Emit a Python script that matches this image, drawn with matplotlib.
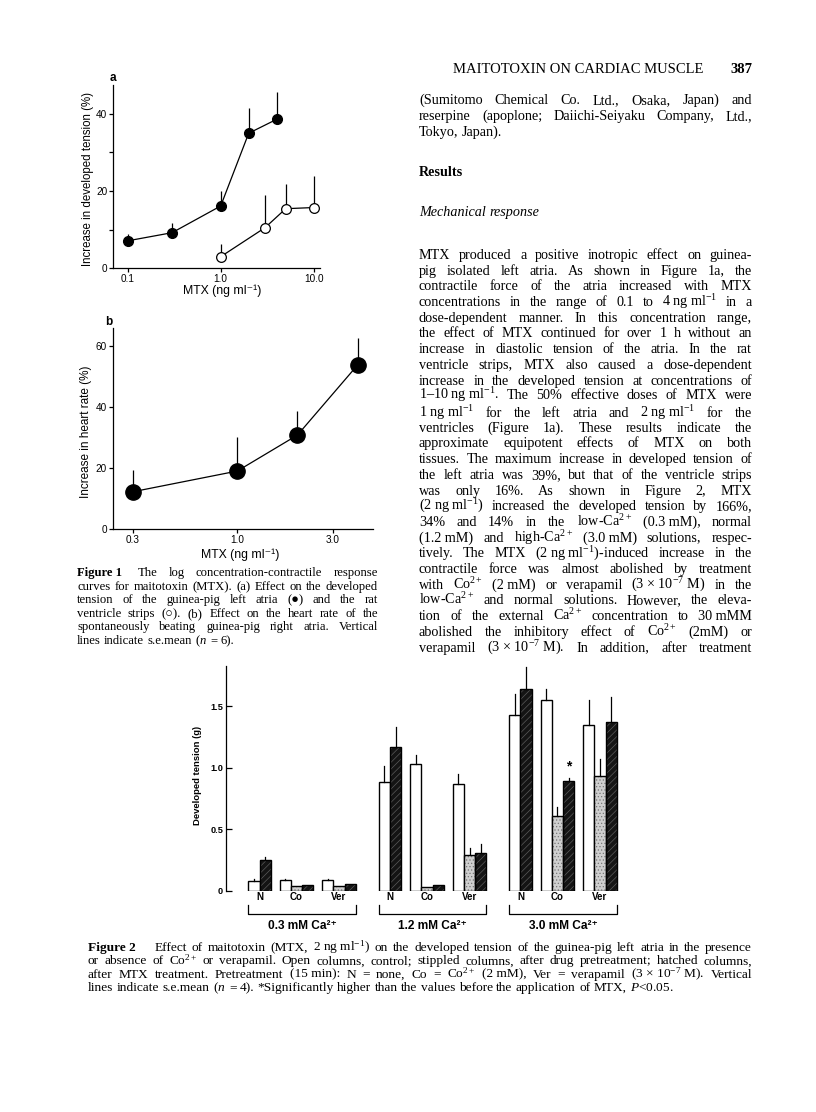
import matplotlib
matplotlib.use('Agg')
import matplotlib.pyplot as plt
from matplotlib.ticker import NullLocator
import numpy as np

W, H, DPI = 816, 1112, 100
plt.rcParams['font.family'] = ['Liberation Sans', 'DejaVu Sans']
plt.rcParams['mathtext.fontset'] = 'custom'
plt.rcParams['mathtext.rm'] = 'Liberation Serif'
plt.rcParams['mathtext.it'] = 'Liberation Serif:italic'
plt.rcParams['mathtext.bf'] = 'Liberation Serif:bold'
plt.rcParams['hatch.linewidth'] = 0.5

SERIF = ['Liberation Serif', 'DejaVu Serif']
SANS = ['Liberation Sans', 'DejaVu Sans']

# ---------------- data ----------------
# Figure 1a : developed tension (%)
atria_conc = [0.1, 0.3, 1.0, 2.0, 4.0]
atria_tension = [7.1, 9.2, 16.1, 34.9, 38.5]
atria_sem = [1.8, 2.4, 3.9, 6.5, 7.0]
vent_conc = [1.0, 3.0, 5.0, 10.0]
vent_tension = [3.0, 10.5, 15.4, 15.7]
vent_sem = [3.2, 8.5, 6.3, 8.2]
fig1a_xticks = [0.1, 1.0, 10.0]
fig1a_xticklabels = ['0.1', '1.0', '10.0']
fig1a_yticks = [0, 20, 40]
fig1a_yminor = [10, 30]

# Figure 1b : heart rate (%)
hr_conc = [0.3, 1.0, 2.0, 4.0]
hr_increase = [12.3, 19.1, 30.9, 53.9]
hr_sem = [7.2, 11.0, 8.0, 8.7]
fig1b_xticks = [0.3, 1.0, 3.0]
fig1b_xticklabels = ['0.3', '1.0', '3.0']
fig1b_yticks = [0, 20, 40, 60]

# Figure 2 : developed tension (g)
ca_groups = ['0.3 mM Ca²⁺', '1.2 mM Ca²⁺', '3.0 mM Ca²⁺']
pretreatments = ['N', 'Co', 'Ver']
control = [[0.085, 0.088, 0.09], [0.88, 1.03, 0.87], [1.43, 1.55, 1.35]]
control_sem = [[0.015, 0.01, 0.01], [0.13, 0.07, 0.075], [0.17, 0.085, 0.2]]
after_drug = [[np.nan, 0.04, 0.04], [np.nan, 0.03, 0.29], [np.nan, 0.61, 0.93]]
after_drug_sem = [[np.nan, 0.0, 0.0], [np.nan, 0.0, 0.06], [np.nan, 0.075, 0.14]]
after_mtx = [[0.25, 0.045, 0.055], [1.17, 0.045, 0.31], [1.64, 0.89, 1.37]]
after_mtx_sem = [[0.025, 0.005, 0.005], [0.16, 0.0, 0.07], [0.18, 0.03, 0.2]]
fig2_yticks = [0, 0.5, 1.0, 1.5]
fig2_yticklabels = ['0', '0.5', '1.0', '1.5']
significant = [(2, 1)]  # (Ca group, pretreatment) marked with *

# ---------------- figure ----------------
fig = plt.figure(figsize=(W / DPI, H / DPI), dpi=DPI)
fig.patch.set_facecolor('white')
renderer = fig.canvas.get_renderer()


def ax_px(left, top, right, bottom):
    a = fig.add_axes([left / W, 1 - bottom / H, (right - left) / W, (bottom - top) / H])
    a.patch.set_alpha(0)
    return a


def ftext(x, y, s, **kw):
    return fig.text(x / W, 1 - y / H, s, **kw)


def style_axes(ax, direction='out'):
    for s in ['top', 'right']:
        ax.spines[s].set_visible(False)
    for s in ['left', 'bottom']:
        ax.spines[s].set_linewidth(0.9)
    ax.tick_params(which='both', direction=direction, length=3, width=0.9,
                   labelsize=7.2, pad=1.2)


# ---- Figure 1a ----
a_left, a_top, a_right, a_bottom = 113.3, 85, 320, 268.3
a_x01, a_dec = 127.7, 93.0          # pixel of 0.1, pixels per decade
a_ppu = 3.87                        # pixels per % unit
ax1 = ax_px(a_left, a_top, a_right, a_bottom)
ax1.set_xscale('log')
ax1.set_xlim(0.1 * 10 ** ((a_left - a_x01) / a_dec), 0.1 * 10 ** ((a_right - a_x01) / a_dec))
ax1.set_ylim(0, (a_bottom - a_top) / a_ppu)
style_axes(ax1)
ax1.set_xticks(fig1a_xticks, labels=fig1a_xticklabels)
ax1.xaxis.set_minor_locator(NullLocator())
ax1.set_yticks(fig1a_yticks)
ax1.set_yticks(fig1a_yminor, minor=True)
ax1.errorbar(atria_conc, atria_tension, yerr=[np.zeros(len(atria_sem)), atria_sem],
             fmt='none', ecolor='black', elinewidth=0.9, capsize=0, zorder=2)
ax1.errorbar(vent_conc, vent_tension, yerr=[np.zeros(len(vent_sem)), vent_sem],
             fmt='none', ecolor='black', elinewidth=0.9, capsize=0, zorder=2)
ax1.plot(atria_conc, atria_tension, '-o', color='black', lw=0.9, ms=7,
         mfc='black', mec='black', zorder=3, clip_on=False)
ax1.plot(vent_conc, vent_tension, '-o', color='black', lw=0.9, ms=7,
         mfc='white', mec='black', mew=0.9, zorder=3, clip_on=False)
ftext(113, 78, 'a', fontsize=8.5, weight='bold', ha='center', va='center')
ftext(88, 179, 'Increase in developed tension (%)', rotation=90, fontsize=8.3,
      ha='center', va='center')
ftext(222, 291, 'MTX (ng ml⁻¹)', fontsize=8.8, ha='center', va='center')

# ---- Figure 1b ----
b_left, b_top, b_right, b_bottom = 112.7, 328, 373, 529.3
b_x03, b_dec = 132.7, 200.0
b_ppu = 3.05
ax2 = ax_px(b_left, b_top, b_right, b_bottom)
ax2.set_xscale('log')
ax2.set_xlim(0.3 * 10 ** ((b_left - b_x03) / b_dec), 0.3 * 10 ** ((b_right - b_x03) / b_dec))
ax2.set_ylim(0, (b_bottom - b_top) / b_ppu)
style_axes(ax2)
ax2.set_xticks(fig1b_xticks, labels=fig1b_xticklabels)
ax2.xaxis.set_minor_locator(NullLocator())
ax2.set_yticks(fig1b_yticks)
ax2.errorbar(hr_conc, hr_increase, yerr=[np.zeros(len(hr_sem)), hr_sem],
             fmt='none', ecolor='black', elinewidth=0.9, capsize=0, zorder=2)
ax2.plot(hr_conc, hr_increase, '-o', color='black', lw=0.9, ms=11,
         mfc='black', mec='black', zorder=3, clip_on=False)
ftext(109, 322, 'b', fontsize=8.5, weight='bold', ha='center', va='center')
ftext(86.5, 432, 'Increase in heart rate (%)', rotation=90, fontsize=8.5,
      ha='center', va='center')
ftext(240, 555, 'MTX (ng ml⁻¹)', fontsize=8.8, ha='center', va='center')

# ---- Figure 2 ----
c_left, c_top, c_right, c_zero = 226, 666, 640, 891
c_x0, c_unit = 248.3, 11.2      # pixel of first bar edge, pixels per bar width
c_ppu = 123.3                   # pixels per gram
group_gap = 11.65               # bar widths between Ca groups
pre_off = [0.0, 2.8, 6.6]       # bar-width offsets of N, Co, Ver inside group
ax3 = ax_px(c_left, c_top, c_right, c_zero)
ax3.set_xlim((c_left - c_x0) / c_unit, (c_right - c_x0) / c_unit)
ax3.set_ylim(0, (c_zero - c_top) / c_ppu)
for s in ['top', 'right', 'bottom']:
    ax3.spines[s].set_visible(False)
ax3.spines['left'].set_linewidth(0.9)
ax3.set_xticks([])
ax3.set_yticks(fig2_yticks, labels=fig2_yticklabels)
ax3.tick_params(axis='y', direction='in', length=4, width=0.9, labelsize=6.6, pad=2)
for lab in ax3.get_yticklabels():
    lab.set_fontweight('bold')


def ydat(py):
    return (c_zero - py) / c_ppu


def draw_bar(x, h, kind):
    if kind == 'control':
        ax3.bar(x, h, width=1, align='edge', color='white', edgecolor='black', lw=1.0, zorder=2)
    elif kind == 'drug':
        ax3.bar(x, h, width=1, align='edge', color='#cfcfcf', edgecolor='#777777',
                hatch='.....', lw=0, zorder=2)
        ax3.bar(x, h, width=1, align='edge', fill=False, edgecolor='black', lw=1.0, zorder=3)
    else:
        ax3.bar(x, h, width=1, align='edge', color='#141414', edgecolor='#5a5a5a',
                hatch='/////', lw=0, zorder=2)
        ax3.bar(x, h, width=1, align='edge', fill=False, edgecolor='black', lw=1.0, zorder=3)


for g in range(len(ca_groups)):
    gstart = g * group_gap
    for p in range(len(pretreatments)):
        x0 = gstart + pre_off[p]
        slots = [('control', control[g][p], control_sem[g][p])]
        if not np.isnan(after_drug[g][p]):
            slots.append(('drug', after_drug[g][p], after_drug_sem[g][p]))
        slots.append(('mtx', after_mtx[g][p], after_mtx_sem[g][p]))
        for k, (kind, val, err) in enumerate(slots):
            draw_bar(x0 + k, val, kind)
            if err > 0:
                ax3.plot([x0 + k + 0.5] * 2, [val, val + err], color='black', lw=0.9, zorder=4)
            if kind == 'mtx' and (g, p) in significant:
                ax3.text(x0 + k + 0.5, val + err + 0.09, '*', fontsize=10, weight='bold',
                         ha='center', va='center')
        ax3.text(x0 + len(slots) / 2, ydat(897), pretreatments[p], fontsize=7.0,
                 weight='bold', ha='center', va='center', clip_on=False)
    gend = gstart + pre_off[-1] + 3
    yb, yt = ydat(914), ydat(905)
    ax3.plot([gstart, gstart, gend, gend], [yt, yb, yb, yt], color='black', lw=0.9,
             clip_on=False)
    ax3.text((gstart + gend) / 2, ydat(926), ca_groups[g], fontsize=8.6, weight='bold',
             ha='center', va='center', clip_on=False)
ftext(198, 775, 'Developed tension (g)', rotation=90, fontsize=6.8, weight='bold',
      ha='center', va='center')

# ---------------- body text ----------------

def tokens_of(spec):
    words = spec['text'].split(' ')
    toks = []
    for i, w in enumerate(words):
        w = w.replace('~', ' ')
        weight = spec.get('weight', 'normal')
        style = spec.get('style', 'normal')
        if i == 0 and spec.get('lead_bold'):
            weight = 'bold'
        toks.append((w, weight, style))
    return toks


def measure(tok, size, family):
    t = fig.text(0, 0, tok[0], fontsize=size, family=family, weight=tok[1], style=tok[2])
    w = t.get_window_extent(renderer).width
    t.remove()
    return w


def fit_size(specs, width, family, ref=10.0):
    sizes = []
    for s in specs:
        if not s.get('justify'):
            continue
        toks = tokens_of(s)
        ws = [measure(t, ref, family) for t in toks]
        nat = sum(ws) + (len(toks) - 1) * 0.25 * ref * DPI / 72
        sizes.append(ref * (width - s.get('extra', 0)) / nat)
    return min(sizes)


def draw_block(specs, x0, x1, ys, size, family):
    em = size * DPI / 72
    for s, yc in zip(specs, ys):
        toks = tokens_of(s)
        objs = [fig.text(0, 0, t[0], fontsize=size, family=family, weight=t[1],
                         style=t[2], ha='left', va='baseline') for t in toks]
        ws = [o.get_window_extent(renderer).width for o in objs]
        extra = s.get('extra', 0)
        n = len(objs)
        if s.get('justify') and n > 1:
            gap = (x1 - x0 - sum(ws) - extra) / (n - 1)
        else:
            gap = 0.25 * em
        x = x0
        yb = yc + 0.23 * em + s.get('dy', 0)
        for i, (o, w) in enumerate(zip(objs, ws)):
            o.set_position((x / W, 1 - yb / H))
            x += w + gap + (extra if i == 0 else 0)


def J(t, **kw):
    d = dict(text=t, justify=True)
    d.update(kw)
    return d


def L(t, **kw):
    d = dict(text=t, justify=False)
    d.update(kw)
    return d


# header
ftext(453, 73, 'MAITOTOXIN ON CARDIAC MUSCLE', family=SERIF, fontsize=10.5, va='baseline')
ftext(752, 73, '387', family=SERIF, fontsize=10.5, weight='bold', ha='right', va='baseline')

right_top = [J('(Sumitomo Chemical Co. Ltd., Osaka, Japan) and'),
             J('reserpine (apoplone; Daiichi-Seiyaku Company, Ltd.,'),
             L('Tokyo, Japan).')]
right_heads = [L('Results', weight='bold'), L('Mechanical response', style='italic')]
right_body = [
    J('MTX produced a positive inotropic effect on guinea-'),
    J('pig isolated left atria. As shown in Figure 1a, the'),
    J('contractile force of the atria increased with MTX'),
    J('concentrations in the range of 0.1 to 4~ng~ml$^{-1}$ in a'),
    J('dose-dependent manner. In this concentration range,'),
    J('the effect of MTX continued for over 1 h without an'),
    J('increase in diastolic tension of the atria. In the rat'),
    J('ventricle strips, MTX also caused a dose-dependent'),
    J('increase in the developed tension at concentrations of'),
    J('1–10~ng~ml$^{-1}$. The 50% effective doses of MTX were', dy=-1),
    J('1~ng~ml$^{-1}$ for the left atria and 2~ng~ml$^{-1}$ for the', dy=1),
    J('ventricles (Figure 1a). These results indicate the'),
    J('approximate equipotent effects of MTX on both'),
    J('tissues. The maximum increase in developed tension of'),
    J('the left atria was 39%, but that of the ventricle strips'),
    J('was only 16%. As shown in Figure 2, MTX'),
    J('(2~ng~ml$^{-1}$) increased the developed tension by 166%,'),
    J('34% and 14% in the low-Ca$^{2+}$ (0.3~mM), normal'),
    J('(1.2~mM) and high-Ca$^{2+}$ (3.0~mM) solutions, respec-'),
    J('tively. The MTX (2~ng~ml$^{-1}$)-induced increase in the'),
    J('contractile force was almost abolished by treatment'),
    J('with Co$^{2+}$ (2~mM) or verapamil (3~×~10$^{-7}$~M) in the'),
    J('low-Ca$^{2+}$ and normal solutions. However, the eleva-'),
    J('tion of the external Ca$^{2+}$ concentration to 30~mMM'),
    J('abolished the inhibitory effect of Co$^{2+}$ (2mM) or'),
    J('verapamil (3~×~10$^{-7}$~M). In addition, after treatment'),
]
rx0, rx1 = 419, 752
body_size = fit_size(right_top + right_body, rx1 - rx0, SERIF) * 0.94
draw_block(right_top, rx0, rx1, [101 + 15.71 * i for i in range(3)], body_size, SERIF)
draw_block(right_heads, rx0, rx1, [173, 213], body_size, SERIF)
draw_block(right_body, rx0, rx1, [255.6 + 15.71 * i for i in range(len(right_body))],
           body_size, SERIF)

cap1 = [
    J('Figure~1 The log concentration-contractile response', lead_bold=True, extra=4),
    J('curves for maitotoxin (MTX). (a) Effect on the developed'),
    J('tension of the guinea-pig left atria (●) and the rat'),
    J('ventricle strips (○). (b) Effect on the heart rate of the'),
    J('spontaneously beating guinea-pig right atria. Vertical'),
    L('lines indicate s.e.mean ($n$ = 6).'),
]
cx0, cx1 = 77, 378
cap_size = fit_size(cap1, cx1 - cx0, SERIF) * 0.97
draw_block(cap1, cx0, cx1, [573.5 + 13.5 * i for i in range(len(cap1))], cap_size, SERIF)

cap2 = [
    J('Figure~2 Effect of maitotoxin (MTX, 2~ng~ml$^{-1}$) on the developed tension of the '
      'guinea-pig left atria in the presence', lead_bold=True, extra=14),
    J('or absence of Co$^{2+}$ or verapamil. Open columns, control; stippled columns, after '
      'drug pretreatment; hatched columns,'),
    J('after MTX treatment. Pretreatment (15~min): N = none, Co = Co$^{2+}$ (2~mM), Ver = '
      'verapamil (3~×~10$^{-7}$~M). Vertical'),
    L('lines indicate s.e.mean ($n$ = 4). *Significantly higher than the values before the '
      'application of MTX, $P$<0.05.'),
]
fx0, fx1 = 88, 752
cap2_size = fit_size(cap2, fx1 - fx0, SERIF) * 0.96
draw_block(cap2, fx0, fx1, [948 + 13.3 * i for i in range(len(cap2))], cap2_size, SERIF)

fig.savefig('out.png', dpi=DPI, facecolor='white')
